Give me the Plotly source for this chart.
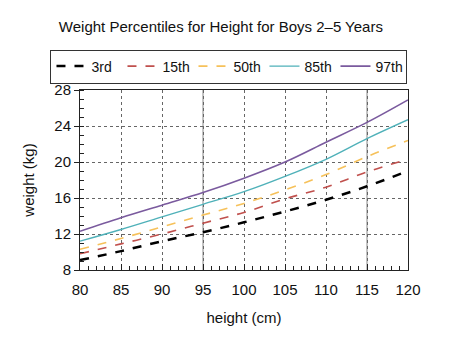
import plotly.graph_objects as go

heights = [80, 85, 90, 95, 100, 105, 110, 115, 120]
p3 = [9.1, 10.1, 11.2, 12.2, 13.3, 14.5, 15.8, 17.3, 19.0]
p15 = [9.8, 10.9, 12.0, 13.2, 14.4, 15.9, 17.2, 18.9, 20.3]
p50 = [10.3, 11.5, 12.8, 14.1, 15.4, 16.9, 18.6, 20.6, 22.4]
p85 = [11.2, 12.5, 13.9, 15.3, 16.7, 18.4, 20.3, 22.6, 24.7]
p97 = [12.3, 13.8, 15.2, 16.6, 18.2, 20.0, 22.2, 24.4, 26.9]

series = [
    ("3rd", p3, "#000000", "dash", 2.5),
    ("15th", p15, "#c0504d", "dash", 1.6),
    ("50th", p50, "#f6c15a", "dash", 1.6),
    ("85th", p85, "#4fb1b9", "solid", 1.4),
    ("97th", p97, "#7a5a9e", "solid", 1.6),
]

fig = go.Figure()
for name, vals, color, dash, w in series:
    fig.add_trace(go.Scatter(x=heights, y=vals, name=name, mode="lines",
                             line=dict(color=color, dash=dash, width=w, shape="spline")))

for xv in [95, 115]:
    fig.add_vline(x=xv, line=dict(color="#888888", width=1), layer="below")

font = "Liberation Sans, Arial, sans-serif"
fig.update_layout(
    width=470, height=354,
    margin=dict(l=80, r=62, t=90, b=84),
    paper_bgcolor="white", plot_bgcolor="white",
    font=dict(family=font, size=14, color="#111111"),
    title=dict(text="Weight Percentiles for Height for Boys 2–5 Years",
               x=0.47, xanchor="center", y=1 - 27 / 354, yanchor="middle",
               font=dict(size=15, color="#111111")),
    showlegend=True,
    legend=dict(orientation="h", x=-0.09, xanchor="left", y=1.225, yanchor="top",
                bordercolor="#333333", borderwidth=1, font=dict(size=14),
                entrywidth=26, entrywidthmode="pixels", itemwidth=30,
                tracegroupgap=0),
    xaxis=dict(range=[80, 120], dtick=5, tick0=80, showgrid=True, gridcolor="#666666",
               griddash="dot", gridwidth=1, showline=True, linecolor="#222222",
               mirror=True, ticks="inside", ticklen=6, tickcolor="#222222",
               ticklabelstandoff=6, tickfont=dict(size=15),
               minor=dict(dtick=1, ticks="inside", ticklen=4, tickcolor="#222222", showgrid=False),
               zeroline=False, title=dict(text="height (cm)", standoff=15, font=dict(size=15))),
    yaxis=dict(range=[8, 28], dtick=4, tick0=8, showgrid=True, gridcolor="#666666",
               griddash="dot", gridwidth=1, showline=True, linecolor="#222222",
               mirror=True, ticks="outside", ticklen=5, tickcolor="#222222",
               tickfont=dict(size=15),
               minor=dict(dtick=1, ticks="inside", ticklen=4, tickcolor="#222222", showgrid=False),
               zeroline=False, title=dict(text="weight (kg)", standoff=16, font=dict(size=15))),
)

fig.write_html("out.html")
